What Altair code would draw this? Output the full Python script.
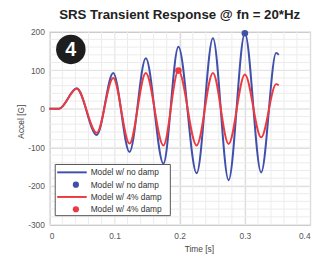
import altair as alt
import pandas as pd

# ---- data ----
time_s = [0.0, 0.015, 0.042, 0.0727, 0.098, 0.123, 0.148, 0.175, 0.198, 0.226,
          0.251, 0.275, 0.300, 0.325, 0.348, 0.352]
accel_no_damp = [0, 0, 53, -68, 93, -112, 131, -142, 161, -167,
                 183, -185, 196, -165, 145, 140]
accel_4pct_damp = [0, 0, 52, -62, 80, -90, 93, -95, 99, -95,
                   93, -91, 89, -74, 64, 61]
peak_no_damp_t = [0.300]
peak_no_damp_a = [196]
peak_4pct_t = [0.198]
peak_4pct_a = [99]
legend_labels = ["Model w/ no damp", "Model w/ no damp",
                 "Model w/ 4% damp", "Model w/ 4% damp"]
legend_kinds = ["line", "dot", "line", "dot"]
x_ticks = [0, 0.1, 0.2, 0.3, 0.4]
y_ticks = [-300, -200, -100, 0, 100, 200]
x_minor = [i * 0.02 for i in range(21)]
y_minor = list(range(-300, 201, 20))
badge_text = ["4"]
badge_t = [0.033]
badge_a = [154]

BLUE = "#4050aa"
RED = "#ee3a3f"
FONT = "Liberation Sans"

xscale = alt.Scale(domain=[0, 0.4], nice=False, zero=False)
yscale = alt.Scale(domain=[-300, 200], nice=False, zero=False)

xaxis = alt.Axis(values=x_ticks, grid=True, gridColor="#d2d2d2", domain=False,
                 ticks=False, labelColor="#555", labelFontSize=8.5, labelPadding=7,
                 labelOverlap=False, labelBound=False,
                 labelExpr="datum.value == 0 ? '0' : format(datum.value, '.1f')",
                 title="Time [s]", titleFontSize=8.5, titleFontWeight="normal",
                 titleColor="#444", titlePadding=5, titleX=152)
yaxis = alt.Axis(values=y_ticks, grid=True, gridColor="#d2d2d2", domain=False,
                 ticks=False, labelColor="#555", labelFontSize=8.5, labelPadding=5,
                 labelOverlap=False, labelBound=False,
                 labelExpr="'' + datum.value",
                 title="Accel [G]", titleFontSize=8.5, titleFontWeight="normal",
                 titleColor="#444", titlePadding=2, titleY=91)

df = pd.DataFrame({
    "t": time_s * 2,
    "a": accel_no_damp + accel_4pct_damp,
    "series": ["no"] * len(time_s) + ["d4"] * len(time_s),
})

X = lambda f: alt.X(f, scale=xscale, axis=xaxis)
Y = lambda f: alt.Y(f, scale=yscale, axis=yaxis)

minor_x = alt.Chart(pd.DataFrame({"v": x_minor})).mark_rule(
    color="#ececec", strokeWidth=1).encode(x=X("v:Q"))
minor_y = alt.Chart(pd.DataFrame({"v": y_minor})).mark_rule(
    color="#ececec", strokeWidth=1).encode(y=Y("v:Q"))

def line_layer(series, color):
    return alt.Chart(df).transform_filter(alt.datum.series == series).mark_line(
        color=color, strokeWidth=2, interpolate="monotone").encode(
        x=X("t:Q"), y=Y("a:Q"), order="t:Q")

blue_line = line_layer("no", BLUE)
red_line = line_layer("d4", RED)

blue_dot = alt.Chart(pd.DataFrame({"t": peak_no_damp_t, "a": peak_no_damp_a})).mark_point(
    filled=True, color=BLUE, size=45, opacity=1).encode(x=X("t:Q"), y=Y("a:Q"))
red_dot = alt.Chart(pd.DataFrame({"t": peak_4pct_t, "a": peak_4pct_a})).mark_point(
    filled=True, color=RED, size=45, opacity=1).encode(x=X("t:Q"), y=Y("a:Q"))

badge_df = pd.DataFrame({"t": badge_t, "a": badge_a, "txt": badge_text})
badge_circle = alt.Chart(badge_df).mark_point(
    filled=True, color="#1e1e1e", size=900, opacity=1, shape="circle").encode(
    x=X("t:Q"), y=Y("a:Q"))
badge_num = alt.Chart(badge_df).mark_text(
    color="white", fontSize=20, fontWeight="bold", font=FONT,
    align="center", baseline="middle", dy=1).encode(
    x=X("t:Q"), y=Y("a:Q"), text="txt:N")

# ---- manual legend (layout in pixels inside the plot area) ----
one = pd.DataFrame({"k": [0]})
legend_layers = [alt.Chart(one).mark_rect(fill="white", stroke="#555", strokeWidth=1).encode(
    x=alt.value(6), x2=alt.value(123), y=alt.value(135), y2=alt.value(187))]
colors = [BLUE, BLUE, RED, RED]
for i, (lab, kind) in enumerate(zip(legend_labels, legend_kinds)):
    yy = 143 + 12.5 * i
    if kind == "line":
        legend_layers.append(alt.Chart(one).mark_rule(color=colors[i], strokeWidth=2).encode(
            x=alt.value(8), x2=alt.value(38), y=alt.value(yy)))
    else:
        legend_layers.append(alt.Chart(one).mark_point(
            filled=True, color=colors[i], size=40, opacity=1).encode(
            x=alt.value(27), y=alt.value(yy)))
    legend_layers.append(alt.Chart(pd.DataFrame({"lab": [lab]})).mark_text(
        align="left", baseline="middle", fontSize=8.5, font=FONT, color="#333").encode(
        x=alt.value(42), y=alt.value(yy), text="lab:N"))

chart = alt.layer(minor_x, minor_y, blue_line, red_line, blue_dot, red_dot,
                  badge_circle, badge_num, *legend_layers).properties(
    width=265, height=196,
    title=alt.TitleParams("SRS Transient Response @ fn = 20*Hz", fontSize=13.5,
                          fontWeight="bold", color="#222", font=FONT, offset=6,
                          anchor="middle"),
    autosize=alt.AutoSizeParams(type="none"),
    padding={"left": 42, "top": 22, "right": 4, "bottom": 32},
).configure(font=FONT, background="white").configure_axis(
    labelOverlap=False).configure_axisY(labelOverlap=False).configure_view(
    stroke="#8c8c8c", strokeWidth=1)

chart.save("out.html", embed_options={"renderer": "svg", "actions": False})
